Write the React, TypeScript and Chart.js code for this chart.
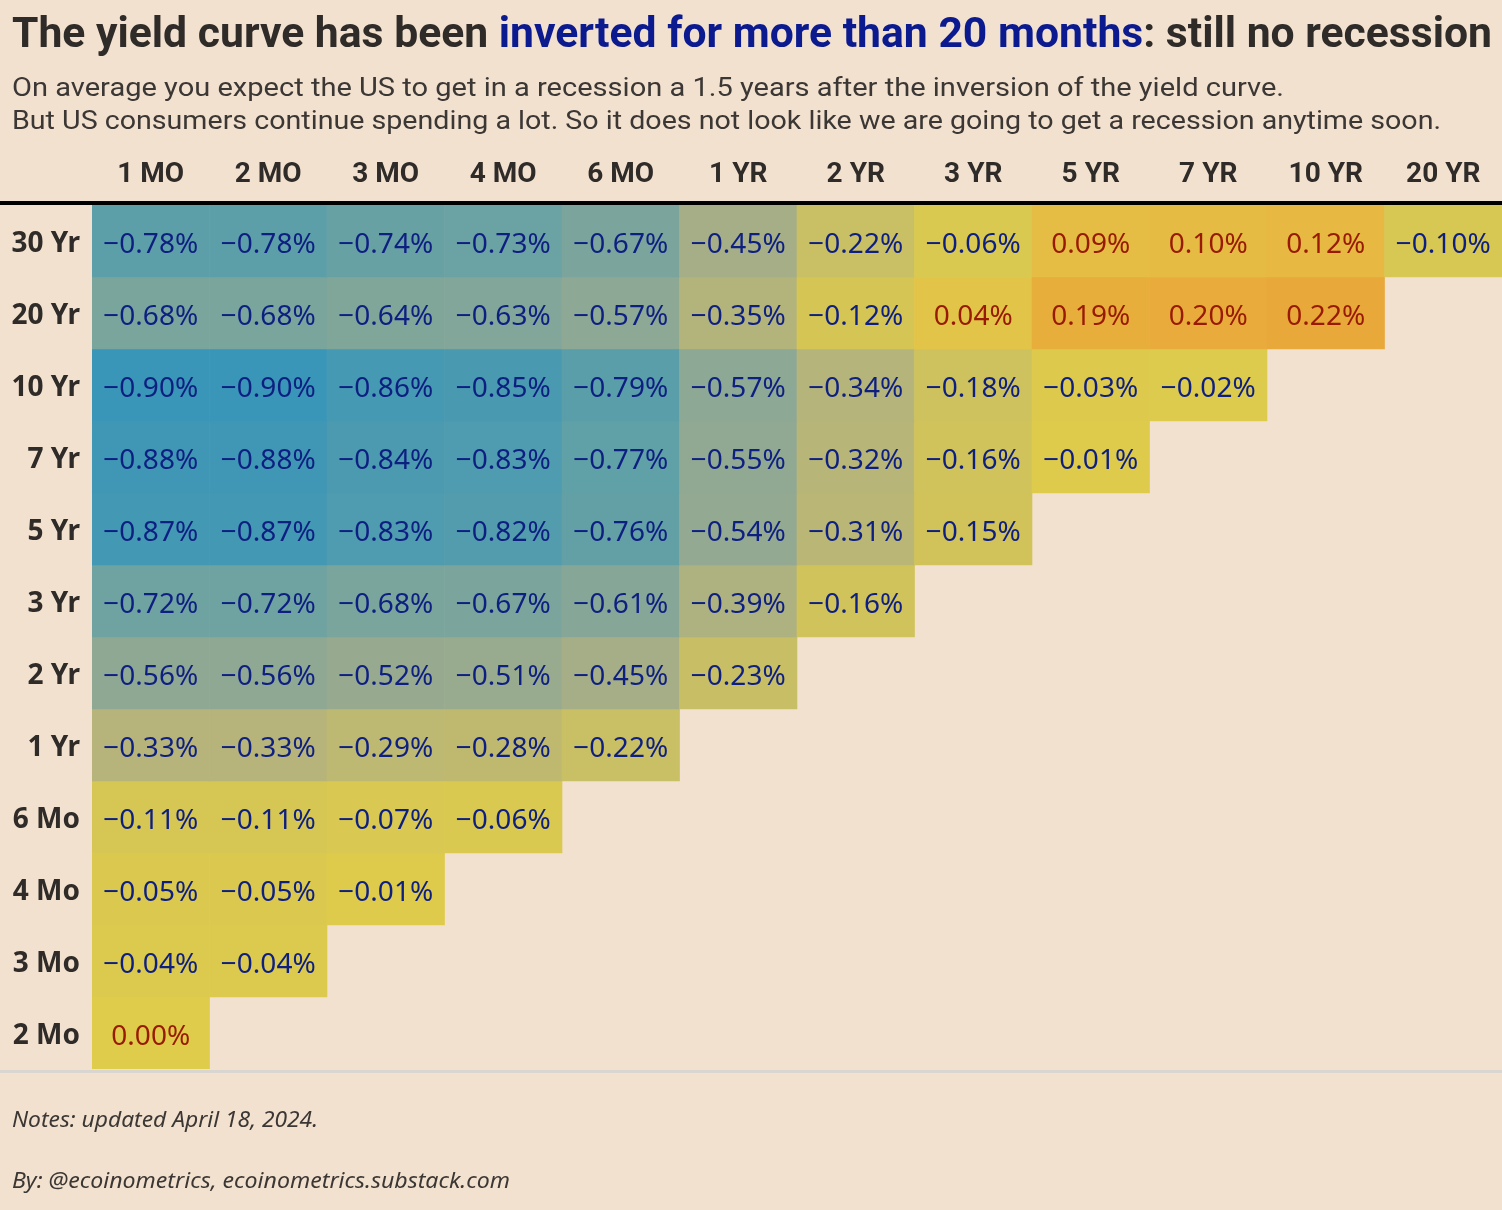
import React, { useEffect, useRef } from 'react';
import { Chart, registerables } from 'chart.js';

Chart.register(...registerables);

// ---------- data ----------
const columns = ['1 MO', '2 MO', '3 MO', '4 MO', '6 MO', '1 YR', '2 YR', '3 YR', '5 YR', '7 YR', '10 YR', '20 YR'];
const rowLabels = ['30 Yr', '20 Yr', '10 Yr', '7 Yr', '5 Yr', '3 Yr', '2 Yr', '1 Yr', '6 Mo', '4 Mo', '3 Mo', '2 Mo'];

const spread30Yr = [-0.78, -0.78, -0.74, -0.73, -0.67, -0.45, -0.22, -0.06, 0.09, 0.10, 0.12, -0.10];
const spread20Yr = [-0.68, -0.68, -0.64, -0.63, -0.57, -0.35, -0.12, 0.04, 0.19, 0.20, 0.22];
const spread10Yr = [-0.90, -0.90, -0.86, -0.85, -0.79, -0.57, -0.34, -0.18, -0.03, -0.02];
const spread7Yr = [-0.88, -0.88, -0.84, -0.83, -0.77, -0.55, -0.32, -0.16, -0.01];
const spread5Yr = [-0.87, -0.87, -0.83, -0.82, -0.76, -0.54, -0.31, -0.15];
const spread3Yr = [-0.72, -0.72, -0.68, -0.67, -0.61, -0.39, -0.16];
const spread2Yr = [-0.56, -0.56, -0.52, -0.51, -0.45, -0.23];
const spread1Yr = [-0.33, -0.33, -0.29, -0.28, -0.22];
const spread6Mo = [-0.11, -0.11, -0.07, -0.06];
const spread4Mo = [-0.05, -0.05, -0.01];
const spread3Mo = [-0.04, -0.04];
const spread2Mo = [0.0];

const rowValues = [
  spread30Yr, spread20Yr, spread10Yr, spread7Yr, spread5Yr, spread3Yr,
  spread2Yr, spread1Yr, spread6Mo, spread4Mo, spread3Mo, spread2Mo,
];

// ---------- style ----------
const BG = '#f3e1cf';
const DARK = '#2f2b28';
const BLUE_TITLE = '#0b1a8f';
const NAVY = '#0e1f82';
const RED = '#981a00';

const colorStops: [number, string][] = [
  [-0.9, '#3a96b8'],
  [-0.84, '#4c9ab0'],
  [-0.78, '#5d9fa8'],
  [-0.68, '#79a59d'],
  [-0.56, '#8fa894'],
  [-0.45, '#a5ae86'],
  [-0.33, '#b6b47a'],
  [-0.22, '#c9bf64'],
  [-0.11, '#d6c654'],
  [0.0, '#dfcc4b'],
  [0.09, '#e6bd44'],
  [0.22, '#e9a93a'],
];

function hexToRgb(h: string): number[] {
  const n = parseInt(h.slice(1), 16);
  return [(n >> 16) & 255, (n >> 8) & 255, n & 255];
}

function colorFor(v: number): string {
  if (v <= colorStops[0][0]) return colorStops[0][1];
  for (let i = 1; i < colorStops.length; i++) {
    const [v1, c1] = colorStops[i];
    const [v0, c0] = colorStops[i - 1];
    if (v <= v1) {
      const t = (v - v0) / (v1 - v0);
      const a = hexToRgb(c0);
      const b = hexToRgb(c1);
      const m = a.map((x, k) => Math.round(x + (b[k] - x) * t));
      return `rgb(${m[0]},${m[1]},${m[2]})`;
    }
  }
  return colorStops[colorStops.length - 1][1];
}

function fmt(v: number): string {
  const s = Math.abs(v).toFixed(2) + '%';
  return v < 0 ? '\u2212' + s : s;
}

function drawFitted(
  ctx: CanvasRenderingContext2D,
  segments: [string, string][],
  x: number,
  baseline: number,
  font: string,
  targetWidth: number
) {
  ctx.save();
  ctx.font = font;
  const total = segments.reduce((s, [t]) => s + ctx.measureText(t).width, 0);
  const sx = targetWidth / total;
  ctx.translate(x, baseline);
  ctx.scale(sx, 1);
  ctx.textBaseline = 'alphabetic';
  ctx.textAlign = 'left';
  let cx = 0;
  for (const [t, c] of segments) {
    ctx.fillStyle = c;
    ctx.fillText(t, cx, 0);
    cx += ctx.measureText(t).width;
  }
  ctx.restore();
}

const backgroundPlugin = {
  id: 'bgFill',
  beforeDraw(chart: any) {
    const ctx = chart.ctx as CanvasRenderingContext2D;
    ctx.save();
    ctx.fillStyle = BG;
    ctx.fillRect(0, 0, chart.width, chart.height);
    ctx.restore();
  },
};

const cellLabelPlugin = {
  id: 'cellLabels',
  afterDatasetsDraw(chart: any) {
    const ctx = chart.ctx as CanvasRenderingContext2D;
    ctx.save();
    ctx.font = '28px "Noto Sans"';
    ctx.textAlign = 'center';
    ctx.textBaseline = 'alphabetic';
    chart.data.datasets.forEach((ds: any, i: number) => {
      const meta = chart.getDatasetMeta(i);
      const vals = rowValues[i];
      meta.data.forEach((bar: any, j: number) => {
        const v = vals[j];
        if (v === undefined || v === null) return;
        const { x, y, base } = bar.getProps(['x', 'y', 'base'], true);
        const cy = (y + base) / 2;
        ctx.fillStyle = v < 0 ? NAVY : RED;
        ctx.fillText(fmt(v), x, cy + 12);
      });
    });
    ctx.restore();
  },
};

const textPlugin = {
  id: 'pageText',
  afterDraw(chart: any) {
    const ctx = chart.ctx as CanvasRenderingContext2D;
    const W = chart.width;
    const area = chart.chartArea;
    // title
    drawFitted(
      ctx,
      [
        ['The yield curve has been ', DARK],
        ['inverted for more than 20 months', BLUE_TITLE],
        [': still no recession', DARK],
      ],
      12,
      47,
      'bold 42px Roboto',
      1480
    );
    // subtitle
    drawFitted(
      ctx,
      [['On average you expect the US to get in a recession a 1.5 years after the inversion of the yield curve.', '#3b3734']],
      12,
      96,
      '26px Roboto',
      1272
    );
    drawFitted(
      ctx,
      [['But US consumers continue spending a lot. So it does not look like we are going to get a recession anytime soon.', '#3b3734']],
      12,
      129,
      '26px Roboto',
      1429
    );
    // thick header rule
    ctx.save();
    ctx.fillStyle = '#000000';
    ctx.fillRect(0, area.top - 4, W, 4);
    // bottom grey rule
    ctx.fillStyle = '#d9d5d0';
    ctx.fillRect(0, area.bottom + 1, W, 3);
    ctx.restore();
    // notes
    drawFitted(ctx, [['Notes: updated April 18, 2024.', '#3b3734']], 12, 1127, 'italic 22px "Noto Sans"', 306);
    drawFitted(
      ctx,
      [['By: @ecoinometrics, ecoinometrics.substack.com', '#3b3734']],
      12,
      1188,
      'italic 22px "Noto Sans"',
      498
    );
  },
};

export default function App() {
  const ref = useRef<HTMLCanvasElement>(null);

  useEffect(() => {
    document.body.style.margin = '0';
    document.body.style.background = BG;
    const canvas = ref.current!;
    const datasets = rowValues.map((vals, r) => ({
      label: rowLabels[r],
      data: columns.map((_, c) => (vals[c] === undefined ? null : [r, r + 1])),
      backgroundColor: columns.map((_, c) => (vals[c] === undefined ? 'rgba(0,0,0,0)' : colorFor(vals[c]))),
      borderWidth: 0,
      borderSkipped: false,
      barPercentage: 1,
      categoryPercentage: 1,
      grouped: false,
    }));

    const chart = new Chart(canvas, {
      type: 'bar',
      data: { labels: columns, datasets: datasets as any },
      options: {
        responsive: false,
        animation: false,
        devicePixelRatio: 1,
        events: [],
        layout: { padding: { top: 140, left: 0, right: 0, bottom: 141 } },
        plugins: { legend: { display: false }, tooltip: { enabled: false }, title: { display: false } },
        scales: {
          x: {
            type: 'category',
            position: 'top',
            grid: { display: false },
            border: { display: false },
            ticks: {
              color: DARK,
              font: { family: 'Roboto', weight: 'bold', size: 28 },
              padding: 5,
              maxRotation: 0,
              autoSkip: false,
            },
            afterFit: (scale: any) => {
              scale.height = 65;
            },
          },
          y: {
            type: 'linear',
            reverse: true,
            min: 0,
            max: 12,
            grid: { display: false },
            border: { display: false },
            afterBuildTicks: (scale: any) => {
              scale.ticks = rowLabels.map((_, i) => ({ value: i + 0.5 }));
            },
            ticks: {
              color: DARK,
              font: { family: '"Noto Sans"', weight: 'bold', size: 28 },
              padding: 4,
              labelOffset: 3,
              autoSkip: false,
              callback: (_v: any, i: number) => rowLabels[i],
            },
            afterFit: (scale: any) => {
              scale.width = 92;
            },
          },
        },
      },
      plugins: [backgroundPlugin, cellLabelPlugin, textPlugin],
    });
    return () => chart.destroy();
  }, []);

  return (
    <canvas
      ref={ref}
      width={1502}
      height={1210}
      style={{ display: 'block', width: '1502px', height: '1210px' }}
    />
  );
}
